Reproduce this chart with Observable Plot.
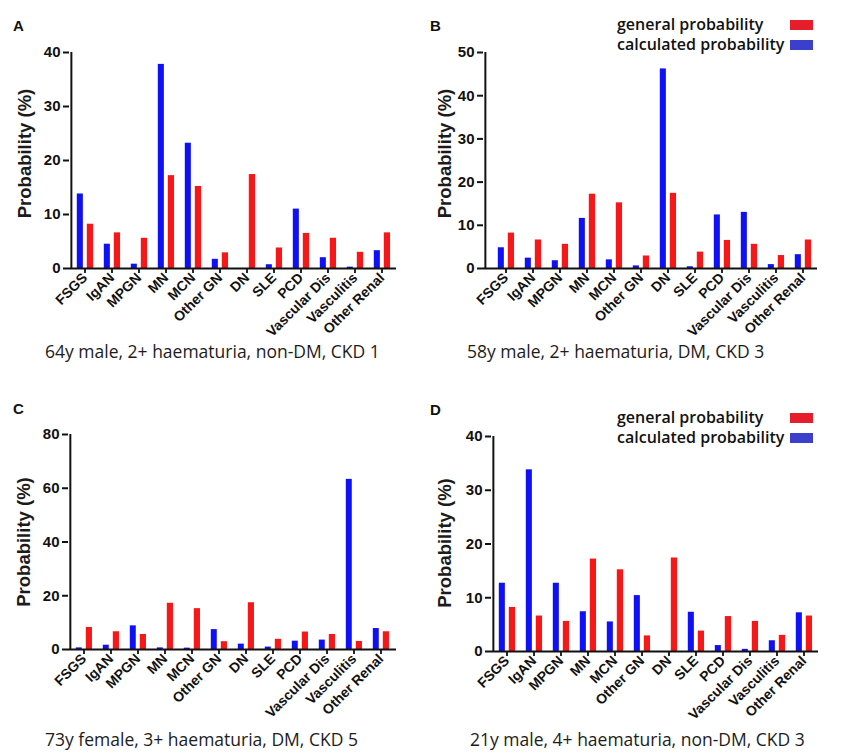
<!DOCTYPE html>
<html>
<head>
<meta charset="utf-8">
<script src="https://cdn.jsdelivr.net/npm/d3@7"></script>
<script src="https://cdn.jsdelivr.net/npm/@observablehq/plot@0.6"></script>
<style>
  html, body { margin: 0; padding: 0; background: #fff; }
  #root { position: relative; width: 845px; height: 753px; overflow: hidden; background: #fff; }
  .panel { position: absolute; }
  .letter { position: absolute; font-family: "Liberation Sans", Arial, sans-serif; font-weight: bold; font-size: 15px; color: #111; line-height: 1; }
  .caption { position: absolute; font-family: "Open Sans", "Noto Sans", sans-serif; font-size: 17.5px; color: #1c1c1c; white-space: nowrap; line-height: 1; }
  .legend { position: absolute; font-family: "Open Sans", "Noto Sans", sans-serif; font-weight: 600; font-size: 16px; color: #111; }
  .legend .row { position: absolute; left: 0; white-space: nowrap; line-height: 1; }
  .legend .sw { position: absolute; width: 23px; height: 10px; }
</style>
</head>
<body>
<div id="root"></div>
<script>
const categories = ["FSGS","IgAN","MPGN","MN","MCN","Other GN","DN","SLE","PCD","Vascular Dis","Vasculitis","Other Renal"];
const generalProbability = [8.2, 6.6, 5.6, 17.2, 15.2, 2.9, 17.4, 3.8, 6.5, 5.6, 3.0, 6.6];
const calculatedA = [13.8, 4.5, 0.8, 37.8, 23.2, 1.7, 0, 0.7, 11.0, 2.0, 0.25, 3.3];
const calculatedB = [4.8, 2.4, 1.8, 11.6, 2.0, 0.6, 46.2, 0.4, 12.4, 13.0, 0.9, 3.2];
const calculatedC = [0.6, 1.6, 8.8, 0.6, 0.5, 7.4, 2.0, 0.9, 3.1, 3.5, 63.3, 7.8];
const calculatedD = [12.7, 33.8, 12.7, 7.4, 5.5, 10.4, 0, 7.3, 1.1, 0.4, 2.0, 7.2];
const yTicksA = [0, 10, 20, 30, 40];
const yTicksB = [0, 10, 20, 30, 40, 50];
const yTicksC = [0, 20, 40, 60, 80];
const yTicksD = [0, 10, 20, 30, 40];
const panelLetters = ["A", "B", "C", "D"];
const captions = [
  "64y male, 2+ haematuria, non-DM, CKD 1",
  "58y male, 2+ haematuria, DM, CKD 3",
  "73y female, 3+ haematuria, DM, CKD 5",
  "21y male, 4+ haematuria, non-DM, CKD 3"
];
const legendLabels = ["general probability", "calculated probability"];
const yLabel = "Probability (%)";

const BLUE = "#1010f6";
const RED = "#f61818";
const SW_RED = "#e61e2b";
const SW_BLUE = "#3b40cc";

const root = document.getElementById("root");

function panel(cfg) {
  const {calc, ticks, left, top, width, height, ml, mr, mt, y0, axisDx, titleDx, titleDy} = cfg;
  const calcData = categories.map((c, i) => ({cat: c, v: calc[i]}));
  const genData = categories.map((c, i) => ({cat: c, v: generalProbability[i]}));
  const bw = (width - ml - mr) / categories.length;
  const yMax = ticks[ticks.length - 1];
  const chart = Plot.plot({
    width, height,
    marginLeft: ml, marginRight: mr, marginTop: mt, marginBottom: height - y0,
    style: {fontFamily: "'Liberation Sans', Arial, sans-serif", fontWeight: "bold", background: "transparent", color: "#111", overflow: "visible"},
    x: {domain: categories, padding: 0, axis: null},
    y: {domain: [0, yMax], axis: null},
    marks: [
      Plot.barY(calcData, {x: "cat", y: "v", fill: BLUE, insetLeft: 5.8, insetRight: bw - 12.1}),
      Plot.barY(genData, {x: "cat", y: "v", fill: RED, insetLeft: 15.8, insetRight: bw - 22.3}),
      Plot.axisY({ticks, tickSize: 6, tickPadding: 3, fontSize: 15, strokeWidth: 2, dx: -axisDx, label: null}),
      Plot.ruleX([categories[0]], {x: d => d, y1: 0, y2: yMax, dx: -bw / 2 - axisDx, strokeWidth: 2}),
      Plot.ruleY([0], {strokeWidth: 2, insetLeft: -axisDx}),
      Plot.axisX({tickSize: 5, tickPadding: 2, tickRotate: -45, fontSize: 14, strokeWidth: 1.8, label: null}),
      Plot.text([yLabel], {frameAnchor: "left", textAnchor: "middle", rotate: -90, dx: titleDx, dy: titleDy, fontSize: 18.5, fill: "#1b1b1b", text: d => d})
    ]
  });
  const wrap = document.createElement("div");
  wrap.className = "panel";
  wrap.style.left = left + "px";
  wrap.style.top = top + "px";
  wrap.appendChild(chart);
  root.appendChild(wrap);
}

panel({calc: calculatedA, ticks: yTicksA, left: 0, top: 0, width: 420, height: 360, ml: 69, mr: 24, mt: 52, y0: 268, axisDx: 0, titleDx: -44, titleDy: -7});
panel({calc: calculatedB, ticks: yTicksB, left: 420, top: 0, width: 425, height: 360, ml: 70, mr: 28, mt: 52, y0: 268, axisDx: 7, titleDx: -45, titleDy: -7});
panel({calc: calculatedC, ticks: yTicksC, left: 0, top: 380, width: 420, height: 370, ml: 68, mr: 24, mt: 54, y0: 269, axisDx: 0, titleDx: -44, titleDy: 0});
panel({calc: calculatedD, ticks: yTicksD, left: 420, top: 380, width: 425, height: 370, ml: 71, mr: 27, mt: 56, y0: 271, axisDx: 0, titleDx: -46, titleDy: -1});

// panel letters
[[13, 18], [430, 18], [13, 401], [430, 402]].forEach(([x, y], i) => {
  const d = document.createElement("div");
  d.className = "letter";
  d.style.left = x + "px"; d.style.top = y + "px";
  d.textContent = panelLetters[i];
  root.appendChild(d);
});

// captions
[[45, 343], [467, 343], [45, 731], [470, 731]].forEach(([x, y], i) => {
  const d = document.createElement("div");
  d.className = "caption";
  d.style.left = x + "px"; d.style.top = y + "px";
  d.textContent = captions[i];
  root.appendChild(d);
});

// legends (B and D)
function legend(left, top) {
  const box = document.createElement("div");
  box.className = "legend";
  box.style.left = left + "px"; box.style.top = top + "px";
  box.style.width = "200px"; box.style.height = "40px";
  const colors = [SW_RED, SW_BLUE];
  legendLabels.forEach((t, i) => {
    const r = document.createElement("div");
    r.className = "row";
    r.style.top = (i * 20) + "px";
    r.textContent = t;
    box.appendChild(r);
    const s = document.createElement("div");
    s.className = "sw";
    s.style.left = "173px";
    s.style.top = (4 + i * 20) + "px";
    s.style.background = colors[i];
    box.appendChild(s);
  });
  root.appendChild(box);
}
legend(617, 16);
legend(617, 409);
</script>
</body>
</html>
